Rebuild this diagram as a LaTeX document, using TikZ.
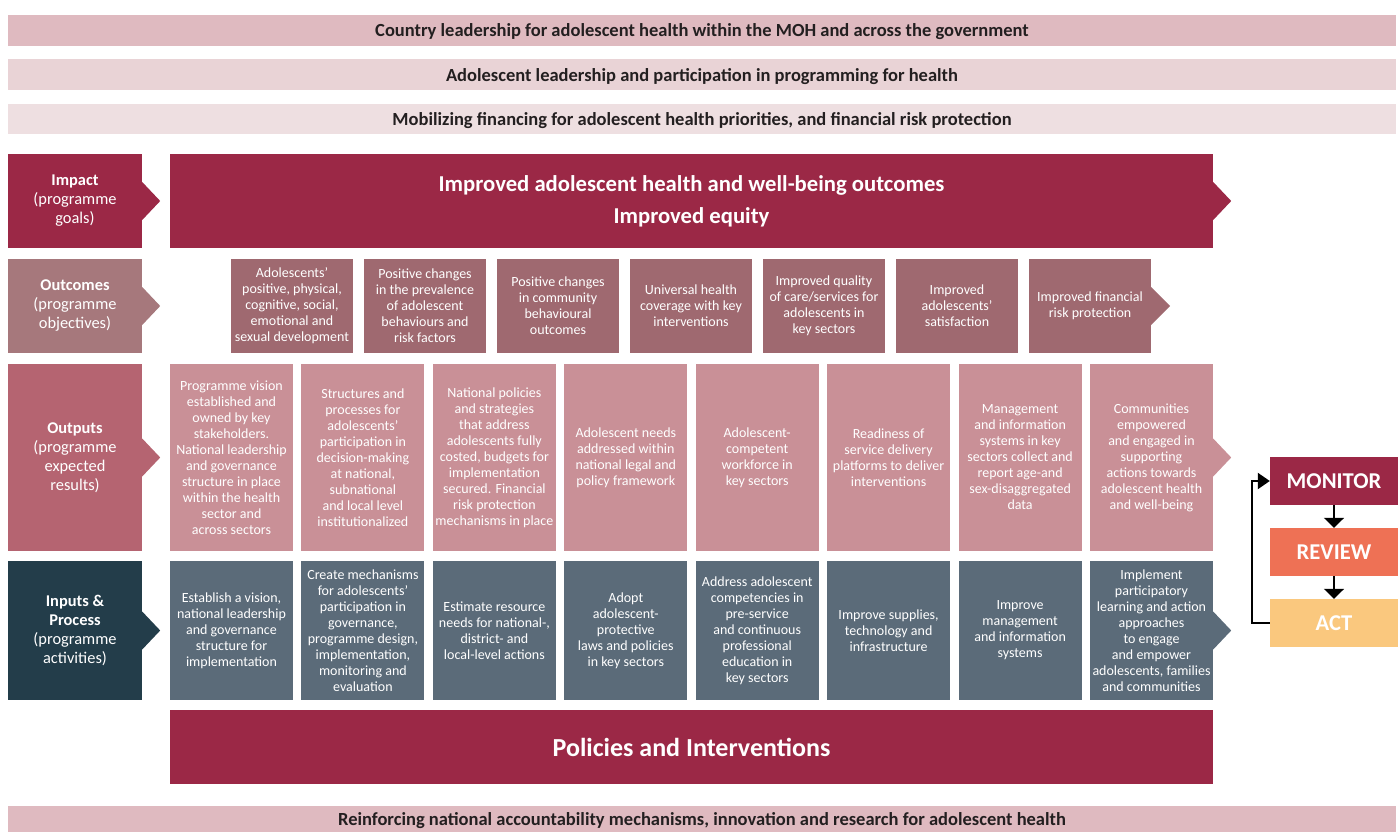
\documentclass[tikz,border=0pt]{standalone}
\usepackage{fontspec}
\setmainfont{Carlito}
\usepackage{tikz}
\usetikzlibrary{arrows.meta}
\usepackage{xcolor}
\definecolor{ink}{RGB}{35,31,32}
\definecolor{band1}{RGB}{223,186,192}
\definecolor{band2}{RGB}{233,211,214}
\definecolor{band3}{RGB}{238,223,225}
\definecolor{wine}{RGB}{155,40,70}
\definecolor{octag}{RGB}{166,120,124}
\definecolor{ocitem}{RGB}{159,105,112}
\definecolor{optag}{RGB}{181,100,113}
\definecolor{opitem}{RGB}{201,144,151}
\definecolor{iptag}{RGB}{35,61,74}
\definecolor{ipitem}{RGB}{91,107,121}
\definecolor{review}{RGB}{238,113,85}
\definecolor{act}{RGB}{250,200,126}

\begin{document}
\begin{tikzpicture}[x=1pt,y=1pt,
  band/.style={minimum width=1388pt,minimum height=31pt,inner sep=0pt,text depth=0pt,text=ink,font=\fontsize{18.5}{21}\selectfont\bfseries},
  tag/.style={minimum width=134pt,inner sep=0pt,align=center,text=white,font=\fontsize{16.4}{19}\selectfont},
  item/.style={inner sep=0pt,align=center,text=white,font=\fontsize{14}{16}\selectfont},
  ocbox/.style={item,fill=ocitem,minimum width=122pt,minimum height=94pt},
  opbox/.style={item,fill=opitem,minimum width=123pt,minimum height=187pt},
  ipbox/.style={item,fill=ipitem,minimum width=123pt,minimum height=139pt},
  cyc/.style={minimum width=128pt,minimum height=48pt,inner sep=0pt,text depth=0pt,text=white,font=\fontsize{22.6}{26}\selectfont\bfseries}]
\useasboundingbox (0,0) rectangle (1398,-832);

% Cross-cutting bands
\node[band,fill=band1] (lead) at (702,-30.5) {Country leadership for adolescent health within the MOH and across the government};
\node[band,fill=band2] (part) at (702,-74.5) {Adolescent leadership and participation in programming for health};
\node[band,fill=band3,minimum height=30pt] (fin) at (702,-119) {Mobilizing financing for adolescent health priorities, and financial risk protection};

% Impact row
\node[tag,fill=wine,minimum height=94pt] (impact) at (75,-201) {\textbf{Impact}\\(programme\\goals)};
\fill[wine] ([yshift=19pt]impact.east) -- ++(18,-19) -- ++(-18,-19) -- cycle;
\node[fill=wine,minimum width=1043pt,minimum height=94pt,inner sep=0pt,align=center,text=white,font=\fontsize{22.7}{32}\selectfont\bfseries] (goal) at (691.5,-201) {Improved adolescent health and well-being outcomes\\Improved equity};
\fill[wine] ([yshift=19pt]goal.east) -- ++(18,-19) -- ++(-18,-19) -- cycle;

% Outcomes row
\node[tag,fill=octag,minimum height=94pt] (outcomes) at (75,-306) {\textbf{Outcomes}\\(programme\\objectives)};
\fill[octag] ([yshift=19pt]outcomes.east) -- ++(18,-19) -- ++(-18,-19) -- cycle;
\node[ocbox] (oc1) at (292,-306) {Adolescents'\\positive, physical,\\cognitive, social,\\emotional and\\sexual development};
\node[ocbox] (oc2) at (425,-306) {Positive changes\\in the prevalence\\of adolescent\\behaviours and\\risk factors};
\node[ocbox] (oc3) at (558,-306) {Positive changes\\in community\\behavioural\\outcomes};
\node[ocbox] (oc4) at (691,-306) {Universal health\\coverage with key\\interventions};
\node[ocbox] (oc5) at (824,-306) {Improved quality\\of care/services for\\adolescents in\\key sectors};
\node[ocbox] (oc6) at (957,-306) {Improved\\adolescents'\\satisfaction};
\node[ocbox] (oc7) at (1090,-306) {Improved financial\\risk protection};
\fill[ocitem] ([yshift=19pt]oc7.east) -- ++(19,-19) -- ++(-19,-19) -- cycle;

% Outputs row
\node[tag,fill=optag,minimum height=187pt] (outputs) at (75,-457.5) {\textbf{Outputs}\\(programme\\expected\\results)};
\fill[optag] ([yshift=19pt]outputs.east) -- ++(18,-19) -- ++(-18,-19) -- cycle;
\node[opbox] (op1) at (231.5,-457.5) {Programme vision\\established and\\owned by key\\stakeholders.\\National leadership\\and governance\\structure in place\\within the health\\sector and\\across sectors};
\node[opbox] (op2) at (362.9,-457.5) {Structures and\\processes for\\adolescents'\\participation in\\decision-making\\at national,\\subnational\\and local level\\institutionalized};
\node[opbox] (op3) at (494.4,-457.5) {National policies\\and strategies\\that address\\adolescents fully\\costed, budgets for\\implementation\\secured. Financial\\risk protection\\mechanisms in place};
\node[opbox] (op4) at (625.8,-457.5) {Adolescent needs\\addressed within\\national legal and\\policy framework};
\node[opbox] (op5) at (757.2,-457.5) {Adolescent-\\competent\\workforce in\\key sectors};
\node[opbox] (op6) at (888.6,-457.5) {Readiness of\\service delivery\\platforms to deliver\\interventions};
\node[opbox] (op7) at (1020.1,-457.5) {Management\\and information\\systems in key\\sectors collect and\\report age-and\\sex-disaggregated\\data};
\node[opbox] (op8) at (1151.5,-457.5) {Communities\\empowered\\and engaged in\\supporting\\actions towards\\adolescent health\\and well-being};
\fill[opitem] ([yshift=19pt]op8.east) -- ++(18,-19) -- ++(-18,-19) -- cycle;

% Inputs & process row
\node[tag,fill=iptag,minimum height=139pt] (inputs) at (75,-630.5) {\textbf{Inputs \&}\\\textbf{Process}\\(programme\\activities)};
\fill[iptag] ([yshift=19pt]inputs.east) -- ++(18,-19) -- ++(-18,-19) -- cycle;
\node[ipbox] (ip1) at (231.5,-630.5) {Establish a vision,\\national leadership\\and governance\\structure for\\implementation};
\node[ipbox] (ip2) at (362.9,-630.5) {Create mechanisms\\for adolescents'\\participation in\\governance,\\programme design,\\implementation,\\monitoring and\\evaluation};
\node[ipbox] (ip3) at (494.4,-630.5) {Estimate resource\\needs for national-,\\district- and\\local-level actions};
\node[ipbox] (ip4) at (625.8,-630.5) {Adopt\\adolescent-\\protective\\laws and policies\\in key sectors};
\node[ipbox] (ip5) at (757.2,-630.5) {Address adolescent\\competencies in\\pre-service\\and continuous\\professional\\education in\\key sectors};
\node[ipbox] (ip6) at (888.6,-630.5) {Improve supplies,\\technology and\\infrastructure};
\node[ipbox] (ip7) at (1020.1,-630.5) {Improve\\management\\and information\\systems};
\node[ipbox] (ip8) at (1151.5,-630.5) {Implement\\participatory\\learning and action\\approaches\\to engage\\and empower\\adolescents, families\\and communities};
\fill[ipitem] ([yshift=19pt]ip8.east) -- ++(18,-19) -- ++(-18,-19) -- cycle;

% Policies and interventions
\node[fill=wine,minimum width=1043pt,minimum height=74pt,inner sep=0pt,text depth=0pt,text=white,font=\fontsize{26}{30}\selectfont\bfseries] (pol) at (691.5,-747) {Policies and Interventions};

% Accountability band
\node[band,fill=band1,minimum height=26pt] (acc) at (702,-819) {Reinforcing national accountability mechanisms, innovation and research for adolescent health};

% Monitor / review / act cycle
\node[cyc,fill=wine] (monitor) at (1334,-481) {MONITOR};
\node[cyc,fill=review] (review) at (1334,-552) {REVIEW};
\node[cyc,fill=act] (actbox) at (1334,-623) {ACT};
\draw[line width=2pt,-{Triangle[width=20pt,length=10pt]}] (monitor) -- (review);
\draw[line width=2pt,-{Triangle[width=20pt,length=10pt]}] (review) -- (actbox);
\draw[line width=2pt,-{Triangle[width=16pt,length=12pt]}] (actbox.west) -- ++(-18,0) |- (monitor.west);
\end{tikzpicture}
\end{document}
